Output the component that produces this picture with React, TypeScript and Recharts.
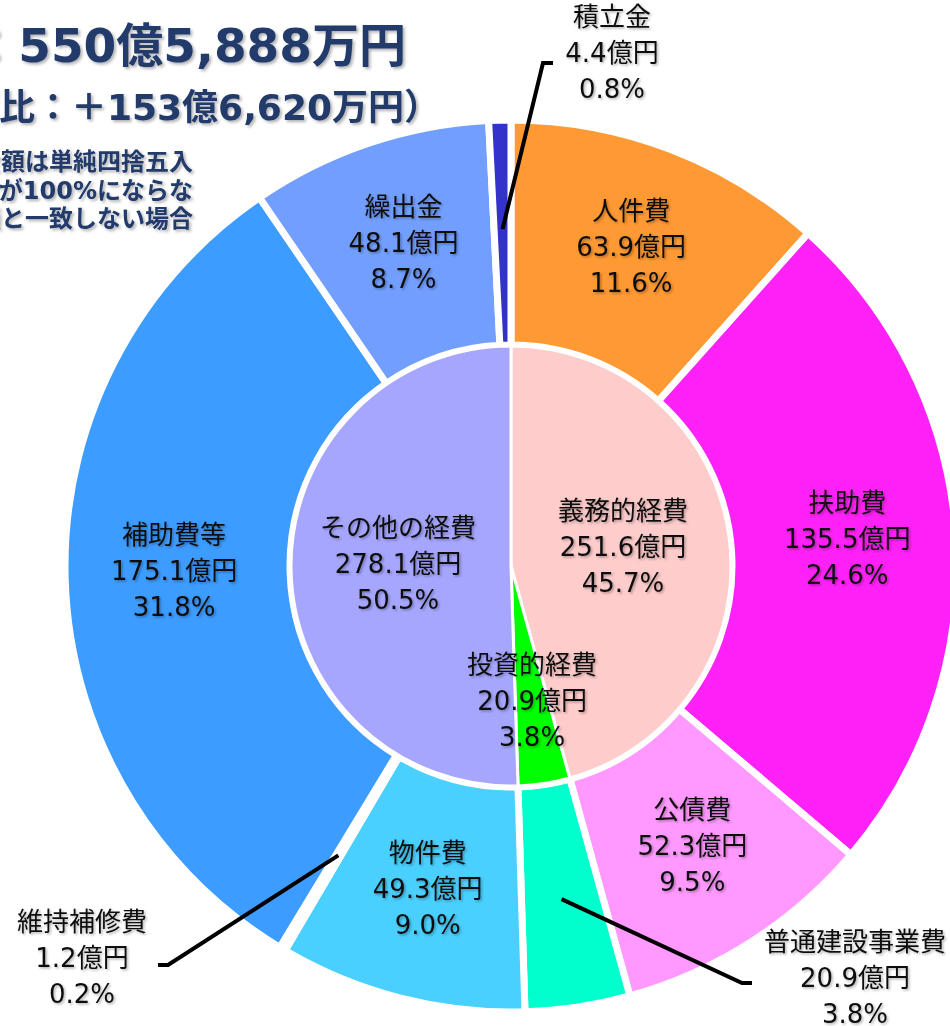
import React from 'react';
import { PieChart, Pie, Cell } from 'recharts';

// ---- data ----
const outerNames = ['人件費', '扶助費', '公債費', '普通建設事業費', '物件費', '維持補修費', '補助費等', '繰出金', '積立金'];
const outerValues = [63.9, 135.5, 52.3, 20.9, 49.3, 1.2, 175.1, 48.1, 4.4];
const outerPercents = ['11.6%', '24.6%', '9.5%', '3.8%', '9.0%', '0.2%', '31.8%', '8.7%', '0.8%'];

const innerNames = ['義務的経費', '投資的経費', 'その他の経費'];
const innerValues = [251.6, 20.9, 278.1];
const innerPercents = ['45.7%', '3.8%', '50.5%'];

const titleLine1 = '歳出総額：550億5,888万円';
const titleLine2 = '（前年度比：＋153億6,620万円）';
const noteLines = ['※構成比及び金額は単純四捨五入', 'のため、構成比の合計が100%にならな', 'い場合や、合計額と一致しない場合'];

// ---- styles ----
const outerColors = ['#FF9933', '#FF21F8', '#FF99FF', '#00FFCC', '#4AD0FF', '#FFFFFF', '#3D9CFF', '#729FFF', '#3333CC'];
const innerColors = ['#FFCCCC', '#00FF00', '#A6A6FF'];

const W = 950;
const H = 1026;
const CX = 511;
const CY = 566;
const FONT = '"DejaVu Sans", "Noto Sans CJK JP", sans-serif';
const RAD = Math.PI / 180;

const outerData = outerNames.map((name, i) => ({ name, value: outerValues[i], pct: outerPercents[i] }));
const innerData = innerNames.map((name, i) => ({ name, value: innerValues[i], pct: innerPercents[i] }));

// external label layout (offsets from chart centre)
const externalLabels: Record<number, { elbow: [number, number]; end: [number, number]; text: [number, number] }> = {
  3: { elbow: [231, 417], end: [241, 417], text: [344, 416] },
  5: { elbow: [-343, 399], end: [-353, 399], text: [-429, 396] },
  8: { elbow: [32, -503], end: [42, -503], text: [101, -509] },
};

const innerLabelRadius = [113, 140, 113];

const LabelBlock = ({ x, y, lines, gap = 36 }: { x: number; y: number; lines: string[]; gap?: number }) => (
  <g filter="url(#lblShadow)">
    {lines.map((l, i) => (
      <text
        key={i}
        x={x}
        y={y + (i - 1) * gap}
        dy="0.2em"
        textAnchor="middle"
        fontSize={26}
        fontFamily={FONT}
        fill="#111"
      >
        {l}
      </text>
    ))}
  </g>
);

const renderOuterLabel = (props: any) => {
  const { cx, cy, midAngle, index } = props;
  const name = outerNames[index];
  const lines = [name, `${outerValues[index].toFixed(1)}億円`, outerPercents[index]];
  const ext = externalLabels[index];
  const r = 337;
  const sx = cx + r * Math.cos(-midAngle * RAD);
  const sy = cy + r * Math.sin(-midAngle * RAD);
  if (ext) {
    const pts = `${sx},${sy} ${cx + ext.elbow[0]},${cy + ext.elbow[1]} ${cx + ext.end[0]},${cy + ext.end[1]}`;
    return (
      <g key={`ol-${index}`}>
        <polyline points={pts} fill="none" stroke="#000" strokeWidth={4} />
        <LabelBlock x={cx + ext.text[0]} y={cy + ext.text[1]} lines={lines} gap={36} />
      </g>
    );
  }
  return (
    <g key={`ol-${index}`}>
      <LabelBlock x={sx} y={sy} lines={lines} gap={36} />
    </g>
  );
};

const renderInnerLabel = (props: any) => {
  const { cx, cy, midAngle, index } = props;
  const r = innerLabelRadius[index];
  const x = cx + r * Math.cos(-midAngle * RAD);
  const y = cy + r * Math.sin(-midAngle * RAD);
  const lines = [innerNames[index], `${innerValues[index].toFixed(1)}億円`, innerPercents[index]];
  return (
    <g key={`il-${index}`}>
      <LabelBlock x={x} y={y} lines={lines} gap={36} />
    </g>
  );
};

export default function App() {
  return (
    <div style={{ position: 'absolute', left: 0, top: 0, width: W, height: H, overflow: 'hidden', background: '#fff' }}>
      <svg width={0} height={0} style={{ position: 'absolute' }}>
        <defs>
          <filter id="lblShadow" x="-20%" y="-20%" width="140%" height="140%">
            <feDropShadow dx={1.5} dy={1.5} stdDeviation={1} floodColor="#000" floodOpacity={0.3} />
          </filter>
          <filter id="titleShadow" x="-20%" y="-20%" width="140%" height="140%">
            <feDropShadow dx={2} dy={2} stdDeviation={1.5} floodColor="#000" floodOpacity={0.3} />
          </filter>
        </defs>
      </svg>
      <div style={{ position: 'absolute', left: 0, top: 0 }}>
        <PieChart width={W} height={H} margin={{ top: 0, right: 0, bottom: 0, left: 0 }}>
          <Pie
            data={outerData}
            dataKey="value"
            nameKey="name"
            cx={CX}
            cy={CY}
            innerRadius={221}
            outerRadius={446}
            startAngle={90}
            endAngle={-270}
            stroke="#fff"
            strokeWidth={7}
            isAnimationActive={false}
            label={renderOuterLabel}
            labelLine={false}
          >
            {outerData.map((d, i) => (
              <Cell key={d.name} fill={outerColors[i]} />
            ))}
          </Pie>
          <Pie
            data={innerData}
            dataKey="value"
            nameKey="name"
            cx={CX}
            cy={CY}
            innerRadius={0}
            outerRadius={220}
            startAngle={90}
            endAngle={-270}
            stroke="#fff"
            strokeWidth={3}
            isAnimationActive={false}
            label={renderInnerLabel}
            labelLine={false}
          >
            {innerData.map((d, i) => (
              <Cell key={d.name} fill={innerColors[i]} />
            ))}
          </Pie>
        </PieChart>
      </div>
      <svg width={W} height={260} style={{ position: 'absolute', left: 0, top: 0, pointerEvents: 'none' }}>
        <g filter="url(#titleShadow)" fill="#213A6A" fontFamily={FONT} fontWeight="bold">
          <text x={406} y={62} textAnchor="end" fontSize={47}>{titleLine1}</text>
          <text x={440} y={120} textAnchor="end" fontSize={36}>{titleLine2}</text>
          {noteLines.map((l, i) => (
            <text key={i} x={193} y={170 + i * 28.5} textAnchor="end" fontSize={24}>{l}</text>
          ))}
        </g>
      </svg>
    </div>
  );
}
